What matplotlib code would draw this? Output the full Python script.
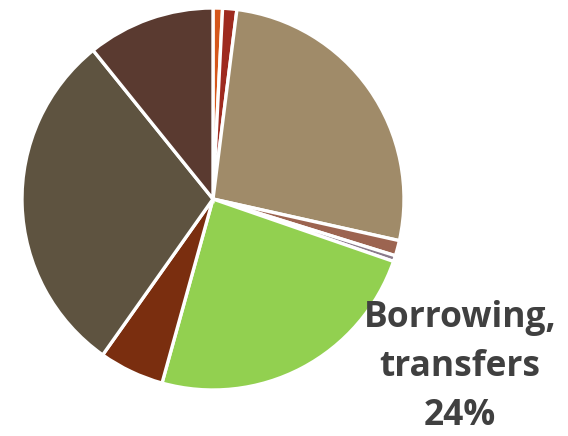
import matplotlib.pyplot as plt

# Share of each slice, clockwise from 12 o'clock (percent)
shares = [0.8, 1.2, 26.5, 1.3, 0.5, 24.0, 5.5, 29.4, 10.8]
colors = ['#D5561B', '#9E2A1F', '#A08B69', '#9C6450', '#8A7B8C',
          '#92D050', '#7A2E0F', '#5E5340', '#5A3A30']
label_text = 'Borrowing,\ntransfers\n24%'

fig = plt.figure(figsize=(5.68, 4.36), dpi=100)
ax = fig.add_axes([22 / 568, 46 / 436, 382 / 568, 382 / 436])

ax.pie(shares, colors=colors, startangle=90, counterclock=False, radius=1,
       wedgeprops=dict(edgecolor='white', linewidth=2.4))
ax.set_xlim(-1, 1)
ax.set_ylim(-1, 1)
ax.set_aspect('equal')
ax.axis('off')

# label for the green slice, one line at a time
for i, line in enumerate(label_text.split('\n')):
    fig.text(460 / 568, 1 - (327 + 49 * i) / 436, line, ha='center', va='baseline',
             fontsize=25.5, fontweight='bold', color='#404040', family='Open Sans')

fig.savefig('out.png', dpi=100)
